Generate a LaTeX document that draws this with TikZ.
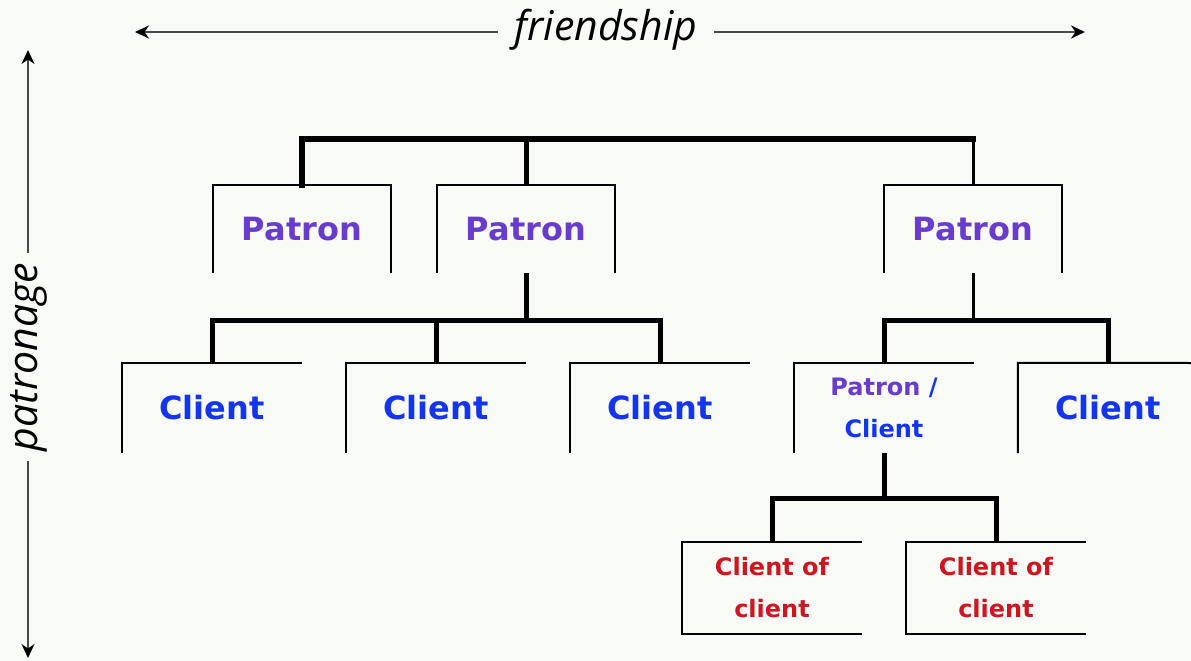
\documentclass[tikz,border=0pt]{standalone}
\usepackage{fontspec}
\setmainfont{DejaVu Sans}
\newfontfamily\axisfont{Open Sans}
\usetikzlibrary{arrows.meta}

\definecolor{bgcol}{HTML}{F8FAF6}
\definecolor{patroncol}{HTML}{6A3CCE}
\definecolor{clientcol}{HTML}{1434F2}
\definecolor{subcol}{HTML}{CC1620}

\begin{document}
\begin{tikzpicture}[x=1pt,y=-1pt,>={Stealth[length=14pt,width=13pt,color=black]},node distance=224pt]
  \tikzstyle{patron}=[inner sep=0pt,minimum width=178pt,minimum height=88pt,text=patroncol,font=\fontsize{32}{36}\selectfont\bfseries]
  \tikzstyle{client}=[inner sep=0pt,minimum width=180pt,minimum height=90pt,text=clientcol,font=\fontsize{32}{36}\selectfont\bfseries]
  \tikzstyle{subclient}=[inner sep=0pt,minimum width=180pt,minimum height=91pt,align=center,text=subcol,font=\fontsize{24}{42}\selectfont\bfseries]
  \tikzstyle{edge}=[line width=2pt,draw=black]
  \tikzstyle{trunk}=[line width=5pt,draw=black]
  \tikzstyle{axis}=[->,line width=2.5pt,draw=black!72]
  \tikzstyle{axislabel}=[inner sep=0pt,font=\fontsize{41}{44}\selectfont\axisfont\itshape]

  \useasboundingbox[fill=bgcol] (0,0) rectangle (1191,661);

  % the two axes
  \node[axislabel,inner xsep=17pt] (fr) at (606,30) {friendship};
  \node[axislabel,inner xsep=10pt,rotate=90] (pa) at (29,357) {patronage};
  \coordinate (frL) at (135,32);
  \coordinate (frR) at (1085,32);
  \coordinate (paT) at (28,50);
  \coordinate (paB) at (28,658);
  \draw[axis] (fr.west |- frL) -- (frL);
  \draw[axis] (fr.east |- frR) -- (frR);
  \draw[axis] (pa.east -| paT) -- (paT);
  \draw[axis] (pa.west -| paB) -- (paB);

  % patrons
  \node[patron] (P1) at (302,229) {Patron};
  \node[patron] (P2) [right of=P1] {Patron};
  \node[patron] (P3) [right of=P2,xshift=223pt] {Patron};

  % clients
  \node[client] (C1) at (212,408) {Client};
  \node[client] (C2) [right of=C1] {Client};
  \node[client] (C3) [right of=C2] {Client};
  \node[client,align=center,font=\fontsize{24}{42}\selectfont\bfseries] (C4) [right of=C3]
       {{\color{patroncol}Patron} /\\Client};
  \node[client] (C5) [right of=C4] {Client};

  % clients of clients
  \node[subclient] (D1) at (772,588) {Client of\\client};
  \node[subclient] (D2) [right of=D1] {Client of\\client};

  % open frames
  \foreach \n in {P1,P2,P3}
    \draw[edge] (\n.south west) -- (\n.north west) -- (\n.north east) -- (\n.south east);
  \foreach \n in {C1,C2,C3,C4}
    \draw[edge] (\n.south west) -- (\n.north west) -- (\n.north east);
  \draw[edge] (C5.south west) -- (C5.north west) -- (1191,363);
  \foreach \n in {D1,D2}
    \draw[edge] (\n.north east) -- (\n.north west) -- (\n.south west) -- (\n.south east);

  % links
  \draw[trunk,line width=3pt] (P3.north) -- ++(0,-46) coordinate (t3);
  \draw[trunk,line width=6pt,line cap=rect] (P1.north) -- (P1.north |- t3) -- (t3);
  \draw[trunk] (P2.north) -- (P2.north |- t3);

  \draw[trunk] (P2.south) -- ++(0,47) coordinate (m1);
  \draw[trunk] (C1.north) |- (m1) -| (C3.north);
  \draw[trunk] (C2.north) -- (C2.north |- m1);

  \draw[trunk,line width=3pt] (P3.south) -- ++(0,47) coordinate (m2);
  \draw[trunk] (C4.north) |- (m2) -| (C5.north);

  \draw[trunk] (C4.south) -- ++(0,45) coordinate (m3);
  \draw[trunk] (D1.north) |- (m3) -| (D2.north);
\end{tikzpicture}
\end{document}
